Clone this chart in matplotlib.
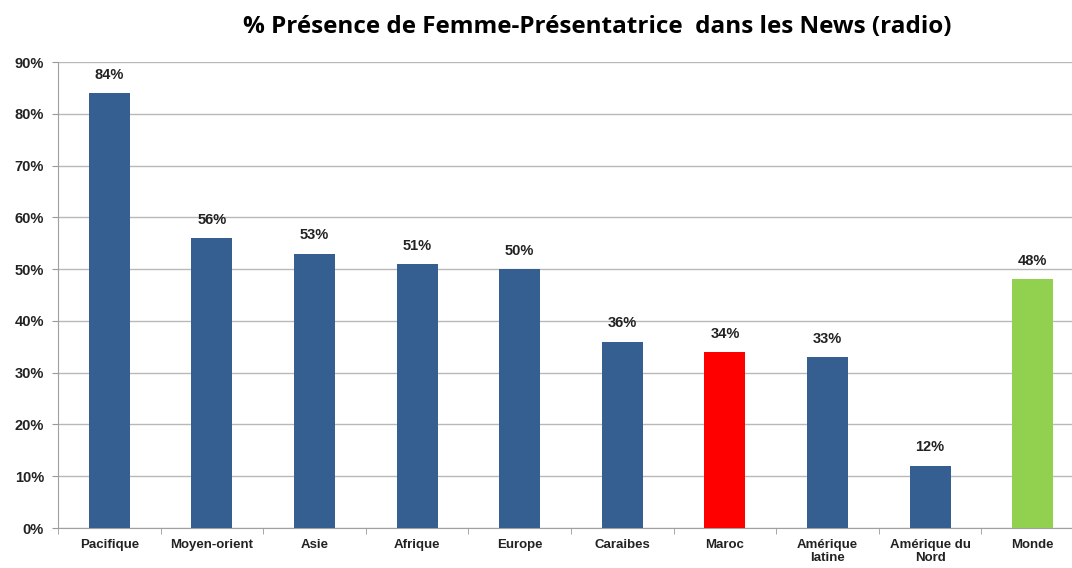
import matplotlib
matplotlib.use('Agg')
import matplotlib.pyplot as plt
import numpy as np

plt.rcParams['font.family'] = ['Liberation Sans', 'DejaVu Sans']

regions = ['Pacifique', 'Moyen-orient', 'Asie', 'Afrique', 'Europe', 'Caraibes',
           'Maroc', 'Amérique\nlatine', 'Amérique du\nNord', 'Monde']
values = [84, 56, 53, 51, 50, 36, 34, 33, 12, 48]
bar_colors = ['#365F91'] * 6 + ['#FF0000', '#365F91', '#365F91', '#92D050']

fig = plt.figure(figsize=(10.72, 5.68), dpi=100)
ax = fig.add_axes([58 / 1072, 40 / 568, 1026 / 1072, 466 / 568])

x = np.arange(len(regions))
bars = ax.bar(x, values, width=0.4, color=bar_colors, zorder=3)
for b, v in zip(bars, values):
    ax.text(b.get_x() + b.get_width() / 2, v + 2.2, f'{v}%', ha='center', va='bottom',
            fontsize=10.5, fontweight='bold', color='#222222')

ax.set_xlim(-0.5, len(regions) - 0.5)
ax.set_ylim(0, 90)
ax.set_yticks(np.arange(0, 91, 10))
ax.set_yticklabels([f'{t}%' for t in range(0, 91, 10)], fontsize=10.5, fontweight='bold', color='#222222')
ax.set_xticks(x)
ax.set_xticklabels(regions, fontsize=9.5, fontweight='bold', color='#222222', linespacing=1.1)
ax.set_xticks(np.arange(-0.5, len(regions), 1), minor=True)
ax.tick_params(axis='x', which='major', length=0, pad=8)
ax.tick_params(axis='x', which='minor', length=4, color='#999999')
ax.tick_params(axis='y', length=4, color='#999999', pad=6)
ax.grid(axis='y', color='#B8B8B8', linewidth=1, zorder=0)
for s in ['top', 'right']:
    ax.spines[s].set_visible(False)
for s in ['left', 'bottom']:
    ax.spines[s].set_color('#A0A0A0')

fig.text(597 / 1072, 1 - 27 / 568, '% Présence de Femme-Présentatrice  dans les News (radio)',
         ha='center', va='center', fontsize=17.5, fontweight='bold', family=['Open Sans', 'DejaVu Sans'])

fig.savefig('out.png', dpi=100)
